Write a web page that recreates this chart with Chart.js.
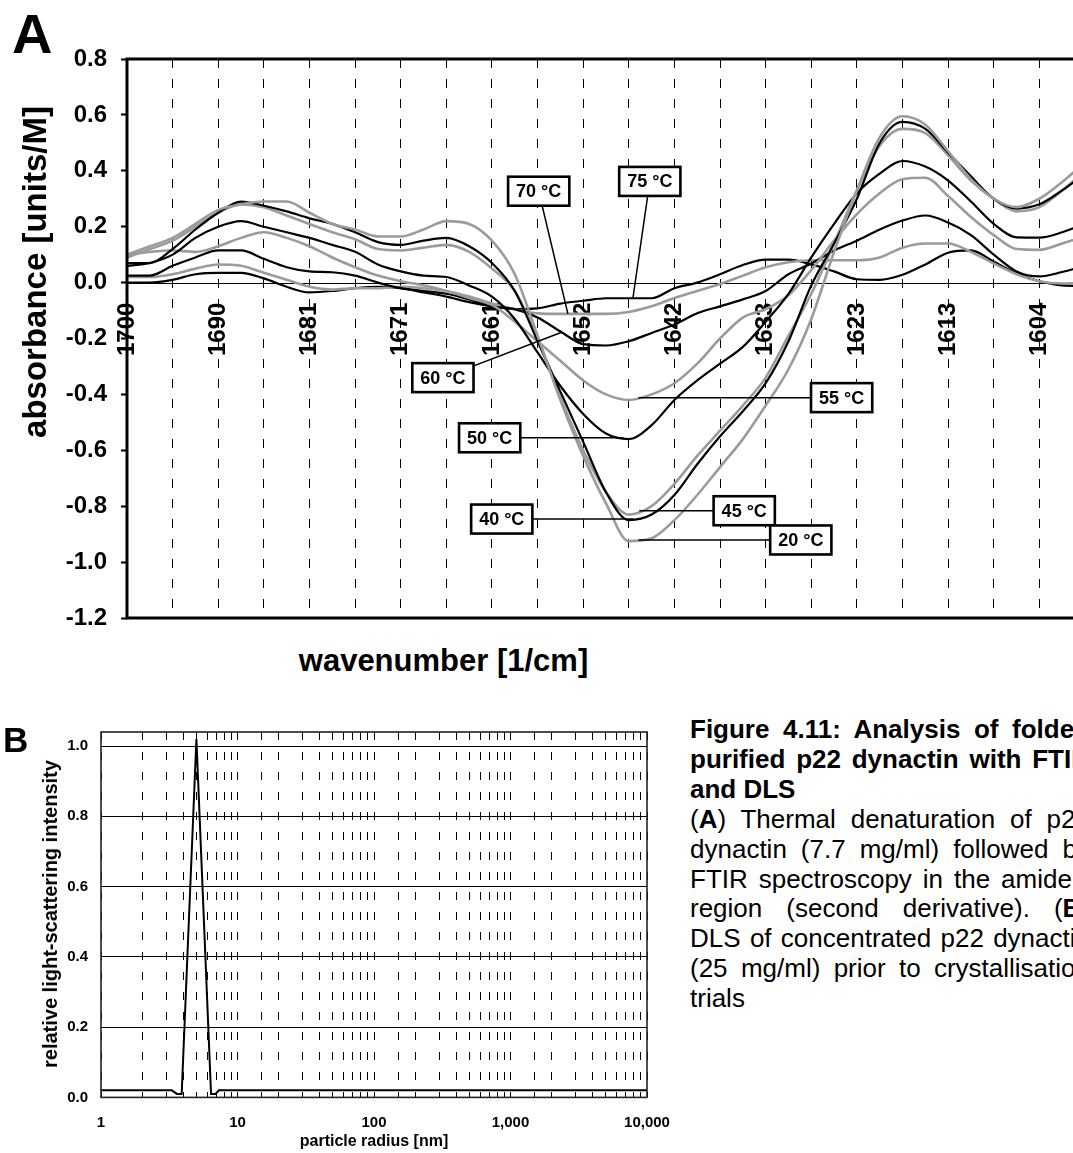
<!DOCTYPE html>
<html>
<head>
<meta charset="utf-8">
<title>p22 dynactin FTIR and DLS</title>
<script src="https://cdn.jsdelivr.net/npm/chart.js"></script>
<style>
  html, body { margin: 0; padding: 0; background: #fff; overflow: hidden; }
  #page { position: relative; width: 1073px; height: 1153px; overflow: hidden;
          font-family: 'Liberation Sans', Arial, Helvetica, sans-serif; color: #000; }
  canvas { position: absolute; left: 0; }
  .txt { position: absolute; white-space: nowrap; font-weight: bold; }
  .rot { transform: translate(-50%, -50%) rotate(-90deg); line-height: 1; }
  #caption { position: absolute; left: 690px; top: 715px; width: 400px;
             font-size: 26px; line-height: 29.9px; text-align: justify; hyphens: none; }
  #caption .head { font-weight: bold; }
</style>
</head>
<body>
<div id="page">
  <canvas id="ftir" width="1100" height="640" style="top:0"></canvas>
  <canvas id="dls" width="680" height="460" style="top:700px"></canvas>

  <div class="txt" style="left:12px; top:5.6px; font-size:56px; line-height:56px;">A</div>
  <div class="txt rot" style="left:34px; top:272px; font-size:33px;">absorbance [units/M]</div>
  <div class="txt" style="left:443.5px; top:644.8px; font-size:31px; line-height:31px; transform:translateX(-50%);">wavenumber [1/cm]</div>

  <div class="txt" style="left:3px; top:722.4px; font-size:35px; line-height:35px;">B</div>
  <div class="txt rot" style="left:50px; top:914px; font-size:20px;">relative light-scattering intensity</div>
  <div class="txt" style="left:374px; top:1133.2px; font-size:16px; line-height:16px; transform:translateX(-50%);">particle radius [nm]</div>

  <div id="caption">
    <div class="head">Figure 4.11: Analysis of folded purified p22 dynactin with FTIR and DLS</div>
    <div>(<b>A</b>) Thermal denaturation of p22 dynactin (7.7&nbsp;mg/ml) followed by FTIR spectroscopy in the amide I region (second derivative). (<b>B</b>) DLS of concentrated p22 dynactin (25&nbsp;mg/ml) prior to crystallisation trials</div>
  </div>
</div>

<script>
// ---------- Panel A: FTIR second-derivative spectra (amide I region) ----------
// Sampled wavenumbers, cm^-1, in the order they are plotted (high to low)
const wavenumbers = [1700.00, 1697.59, 1695.18, 1692.77, 1690.36, 1687.95, 1685.54, 1683.13, 1680.71, 1678.30,
                     1675.89, 1673.48, 1671.07, 1668.66, 1666.25, 1663.84, 1661.43, 1659.02, 1656.61, 1654.20,
                     1651.79, 1649.38, 1646.96, 1644.55, 1642.14, 1639.73, 1637.32, 1634.91, 1632.50, 1630.09,
                     1627.68, 1625.27, 1622.86, 1620.45, 1618.04, 1615.63, 1613.21, 1610.80, 1608.39, 1605.98,
                     1603.57, 1601.16, 1598.75];
// Labels shown on every fourth sample
const wavenumberTicks = ['1700', '1690', '1681', '1671', '1661', '1652', '1642', '1633', '1623', '1613', '1604'];

const temperatures = ['20 °C', '40 °C', '45 °C', '50 °C', '55 °C', '60 °C', '70 °C', '75 °C'];

const abs20 = [0.10, 0.13, 0.16, 0.21, 0.26, 0.28, 0.29, 0.29, 0.25, 0.21,
               0.19, 0.165, 0.165, 0.19, 0.22, 0.21, 0.15, 0.03, -0.19, -0.42,
               -0.62, -0.79, -0.925, -0.915, -0.85, -0.76, -0.66, -0.56, -0.44, -0.31,
               -0.13, 0.11, 0.33, 0.52, 0.595, 0.565, 0.47, 0.37, 0.30, 0.27,
               0.30, 0.36, 0.43];
const abs40 = [0.07, 0.07, 0.12, 0.19, 0.25, 0.29, 0.275, 0.255, 0.23, 0.21,
               0.18, 0.145, 0.135, 0.15, 0.16, 0.13, 0.07, -0.03, -0.21, -0.39,
               -0.57, -0.75, -0.85, -0.83, -0.76, -0.65, -0.55, -0.46, -0.36, -0.21,
               -0.01, 0.14, 0.30, 0.50, 0.575, 0.55, 0.465, 0.38, 0.30, 0.265,
               0.28, 0.33, 0.39];
const abs45 = [0.09, 0.12, 0.15, 0.20, 0.25, 0.28, 0.27, 0.24, 0.21, 0.18,
               0.155, 0.12, 0.115, 0.125, 0.135, 0.11, 0.05, -0.03, -0.20, -0.41,
               -0.60, -0.75, -0.83, -0.80, -0.72, -0.62, -0.53, -0.44, -0.34, -0.19,
               -0.04, 0.14, 0.33, 0.49, 0.55, 0.535, 0.455, 0.365, 0.30, 0.255,
               0.27, 0.33, 0.40];
const abs50 = [0.06, 0.07, 0.10, 0.16, 0.20, 0.22, 0.20, 0.18, 0.16, 0.135,
               0.11, 0.065, 0.04, 0.025, 0.02, -0.01, -0.05, -0.13, -0.25, -0.37,
               -0.47, -0.54, -0.56, -0.51, -0.42, -0.35, -0.29, -0.23, -0.14, -0.04,
               0.09, 0.21, 0.32, 0.39, 0.435, 0.415, 0.365, 0.29, 0.21, 0.162,
               0.161, 0.18, 0.21];
const abs55 = [0.10, 0.11, 0.115, 0.11, 0.13, 0.16, 0.18, 0.16, 0.13, 0.09,
               0.055, 0.025, 0.005, -0.01, -0.03, -0.055, -0.08, -0.14, -0.21, -0.28,
               -0.35, -0.40, -0.42, -0.40, -0.36, -0.29, -0.20, -0.125, -0.095, -0.045,
               0.045, 0.15, 0.245, 0.32, 0.37, 0.375, 0.31, 0.235, 0.17, 0.12,
               0.117, 0.14, 0.165];
const abs60 = [0.025, 0.025, 0.06, 0.09, 0.115, 0.115, 0.085, 0.055, 0.04, 0.037,
               0.025, 0.0, -0.02, -0.03, -0.04, -0.06, -0.085, -0.095, -0.125, -0.175,
               -0.22, -0.225, -0.21, -0.18, -0.15, -0.11, -0.085, -0.06, -0.03, 0.03,
               0.068, 0.115, 0.15, 0.19, 0.222, 0.24, 0.215, 0.17, 0.10, 0.04,
               0.022, 0.038, 0.06];
const abs70 = [0.02, 0.02, 0.03, 0.05, 0.065, 0.06, 0.035, 0.01, -0.015, -0.025,
               -0.02, -0.02, -0.015, -0.02, -0.03, -0.05, -0.075, -0.095, -0.11, -0.112,
               -0.112, -0.112, -0.105, -0.085, -0.055, -0.03, -0.005, 0.025, 0.055, 0.073,
               0.08, 0.08, 0.08, 0.09, 0.125, 0.14, 0.14, 0.11, 0.068, 0.03,
               0.005, -0.003, 0.0];
const abs75 = [0.0, 0.0, 0.01, 0.03, 0.035, 0.035, 0.015, -0.015, -0.035, -0.03,
               -0.02, -0.015, -0.02, -0.035, -0.05, -0.07, -0.085, -0.095, -0.092, -0.075,
               -0.065, -0.056, -0.056, -0.056, -0.02, 0.0, 0.03, 0.063, 0.082, 0.082,
               0.065, 0.04, 0.012, 0.01, 0.028, 0.065, 0.107, 0.115, 0.075, 0.033,
               0.005, -0.01, -0.012];

const ftirSeries = [abs20, abs40, abs45, abs50, abs55, abs60, abs70, abs75];

// Temperature tags: which curve, where the leader touches it (sample position),
// and where the tag box sits (sample position, absorbance; level tags share the curve value)
const tagNotes = [
  { series: 6, at: 19.33, box: [18.05, 0.327] },
  { series: 7, at: 22.18, box: [22.92, 0.362] },
  { series: 5, at: 19.06, box: [13.85, -0.34] },
  { series: 4, at: 22.42, box: [31.33] },
  { series: 3, at: 21.76, box: [15.90] },
  { series: 1, at: 22.20, box: [16.43] },
  { series: 2, at: 22.46, box: [27.06] },
  { series: 0, at: 22.42, box: [29.54] }
];

// ---------- Panel B: DLS size distribution ----------
const radii     = [1, 3.3, 3.6, 3.9, 5.0, 6.4, 6.9, 7.3, 10000];
const intensity = [0.02, 0.02, 0.01, 0.01, 1.02, 0.01, 0.01, 0.02, 0.02];

// ---------- shared styling ----------
const FONT = "'Liberation Sans', Arial, Helvetica, sans-serif";
const GRAY = '#9b9b9b';
Chart.defaults.font.family = FONT;
Chart.defaults.color = '#000';

const fmt1 = v => (Math.abs(v) < 1e-9 ? 0 : v).toFixed(1);
const valueAt = (vals, pos) => {
  const i = Math.floor(pos), f = pos - i;
  return vals[i] + ((vals[i + 1] ?? vals[i]) - vals[i]) * f;
};
// Keep the plot area exactly where the layout padding puts it
const noEdgePadding = s => { s.paddingLeft = 0; s.paddingRight = 0; s.paddingTop = 0; s.paddingBottom = 0; };

// Zero line, temperature tags and the heavy plot frame for panel A
const ftirDecor = {
  id: 'ftirDecor',
  beforeDatasetsDraw(chart) {
    const { ctx, chartArea: a, scales: { y } } = chart;
    const y0 = Math.round(y.getPixelForValue(0)) + 0.5;
    ctx.save();
    ctx.strokeStyle = '#000';
    ctx.lineWidth = 1;
    ctx.beginPath();
    ctx.moveTo(a.left, y0);
    ctx.lineTo(a.right, y0);
    ctx.stroke();
    ctx.restore();
  },
  afterDatasetsDraw(chart) {
    const { ctx, scales: { x, y } } = chart;
    const placed = tagNotes.map(t => {
      const v = valueAt(ftirSeries[t.series], t.at);
      const tipX = x.getPixelForValue(t.at);
      const tipY = y.getPixelForValue(v);
      const bx = x.getPixelForValue(t.box[0]);
      const by = t.box.length > 1 ? y.getPixelForValue(t.box[1]) : tipY;
      return { text: temperatures[t.series], tipX, tipY, bx, by };
    });
    ctx.save();
    ctx.strokeStyle = '#000';
    ctx.lineWidth = 1.5;
    placed.forEach(p => {
      ctx.beginPath();
      ctx.moveTo(p.bx, p.by);
      ctx.lineTo(p.tipX, p.tipY);
      ctx.stroke();
    });
    ctx.font = `bold 18px ${FONT}`;
    ctx.textAlign = 'center';
    ctx.textBaseline = 'middle';
    placed.forEach(p => {
      const w = ctx.measureText(p.text).width + 16, h = 29;
      ctx.fillStyle = '#fff';
      ctx.fillRect(p.bx - w / 2, p.by - h / 2, w, h);
      ctx.lineWidth = 2.6;
      ctx.strokeRect(p.bx - w / 2, p.by - h / 2, w, h);
      ctx.fillStyle = '#000';
      ctx.fillText(p.text, p.bx, p.by + 1);
    });
    ctx.restore();
  },
  afterDraw(chart) {
    const { ctx, chartArea: a } = chart;
    ctx.save();
    ctx.strokeStyle = '#000';
    ctx.lineWidth = 3;
    ctx.strokeRect(a.left, a.top, a.right - a.left, a.bottom - a.top);
    ctx.restore();
  }
};

new Chart(document.getElementById('ftir'), {
  type: 'line',
  data: {
    labels: wavenumbers,
    datasets: ftirSeries.map((vals, k) => ({
      label: temperatures[k],
      data: vals,
      borderColor: k % 2 === 0 ? GRAY : '#000',
      borderWidth: k % 2 === 0 ? 2.6 : 2.2,
      pointRadius: 0,
      fill: false,
      cubicInterpolationMode: 'monotone'
    }))
  },
  options: {
    responsive: false,
    animation: false,
    layout: { padding: { top: 59, right: 15, bottom: 22, left: 0 } },
    plugins: { legend: { display: false }, tooltip: { enabled: false } },
    scales: {
      x: {
        type: 'category',
        position: { y: 0 },
        offset: false,
        afterFit: noEdgePadding,
        grid: {
          color: c => (c.index % 2 === 0 ? '#000' : 'rgba(0,0,0,0)'),
          lineWidth: 1,
          drawTicks: false,
          offset: false
        },
        border: { display: false, dash: [9, 11] },
        ticks: {
          autoSkip: false,
          minRotation: 90,
          maxRotation: 90,
          padding: 20,
          color: '#000',
          font: { size: 24, weight: 'bold' },
          callback: (v, i) => (i % 4 === 0 ? wavenumberTicks[i / 4] : '')
        }
      },
      y: {
        min: -1.2,
        max: 0.8,
        afterFit: s => { noEdgePadding(s); s.width = 127; },
        grid: { drawOnChartArea: false, drawTicks: true, tickLength: 6, tickWidth: 2, tickColor: '#000' },
        border: { display: false },
        ticks: { stepSize: 0.2, padding: 14, color: '#000', font: { size: 24, weight: 'bold' }, callback: fmt1 }
      }
    }
  },
  plugins: [ftirDecor]
});

// Plot frame for panel B
const dlsFrame = {
  id: 'dlsFrame',
  afterDraw(chart) {
    const { ctx, chartArea: a } = chart;
    ctx.save();
    ctx.strokeStyle = '#222';
    ctx.lineWidth = 1.6;
    ctx.strokeRect(a.left, a.top, a.right - a.left, a.bottom - a.top);
    ctx.restore();
  }
};

new Chart(document.getElementById('dls'), {
  type: 'line',
  data: {
    datasets: [{
      data: radii.map((r, i) => ({ x: r, y: intensity[i] })),
      borderColor: '#000',
      borderWidth: 2,
      pointRadius: 0,
      tension: 0,
      fill: false
    }]
  },
  options: {
    responsive: false,
    animation: false,
    layout: { padding: { top: 32, right: 33, bottom: 0, left: 0 } },
    plugins: { legend: { display: false }, tooltip: { enabled: false } },
    scales: {
      x: {
        type: 'logarithmic',
        min: 1,
        max: 10000,
        afterFit: s => { noEdgePadding(s); s.height = 62.6; },
        grid: { color: '#000', lineWidth: 1, drawTicks: false },
        border: { display: false, dash: [8, 12] },
        ticks: {
          autoSkip: false,
          maxRotation: 0,
          padding: 16,
          color: '#000',
          font: { size: 15, weight: 'bold' },
          callback: v => {
            const l = Math.log10(v);
            return Math.abs(l - Math.round(l)) < 1e-9 ? Number(v).toLocaleString('en-US') : '';
          }
        }
      },
      y: {
        min: 0,
        max: 1.04,
        afterFit: s => { noEdgePadding(s); s.width = 101; },
        grid: { color: c => (c.tick && c.tick.value === 0 ? 'rgba(0,0,0,0)' : '#000'), lineWidth: 1, drawTicks: false },
        border: { display: false },
        ticks: { stepSize: 0.2, includeBounds: false, padding: 13, color: '#000', font: { size: 15, weight: 'bold' }, callback: fmt1 }
      }
    }
  },
  plugins: [dlsFrame]
});
</script>
</body>
</html>
